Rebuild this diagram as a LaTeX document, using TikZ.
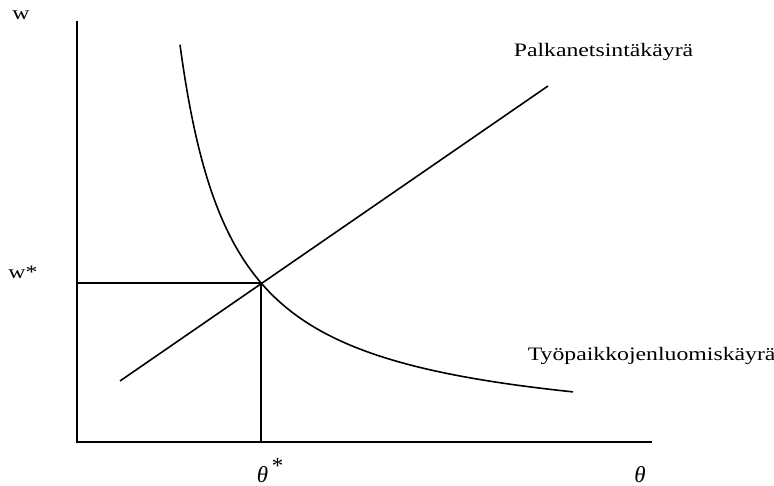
\documentclass[tikz,border=0pt]{standalone}
\usepackage{fontspec}
\setmainfont[FakeStretch=1.25]{Liberation Serif}
\newfontfamily\thetafont{Liberation Serif}
\begin{document}
\begin{tikzpicture}[x=1pt,y=-1pt,line width=1.6pt,
  lbl/.style={font=\fontsize{19}{22}\selectfont,inner sep=0pt},
  mlbl/.style={font=\thetafont\itshape\fontsize{23}{26}\selectfont,inner sep=0pt}]
\useasboundingbox (0,0) rectangle (774,486);
\coordinate (O) at (77,442);
\coordinate (Ytop) at (77,21);
\coordinate (Xend) at (652,442);
\coordinate (E) at (261,283);
\coordinate (Wst) at (77,283);
\coordinate (Tst) at (261,442);
\coordinate (Ls) at (120,381);
\coordinate (Le) at (548,86);
\draw (Ytop) -- (O) -- (Xend);
\draw (Wst) -- (E) -- (Tst);
\draw (Ls) -- (Le);
\draw plot[domain=180:573,samples=160,smooth] (\x,{438.7-208.68/((\x-127)*0.01)});
\node[lbl,anchor=base] (w) at (21,20) {w};
\node[lbl,anchor=base] (ws) at (23,279) {w*};
\node[mlbl,anchor=base west] (ts) at (256,482) {θ\,\raisebox{0.35em}{\upshape *}};
\node[mlbl,anchor=base] (t) at (640,482) {θ};
\node[lbl,anchor=base west] (pk) at (513,57) {Palkanetsintäkäyrä};
\node[lbl,anchor=base west] (tk) at (527,361) {Työpaikkojenluomiskäyrä};
\end{tikzpicture}
\end{document}
